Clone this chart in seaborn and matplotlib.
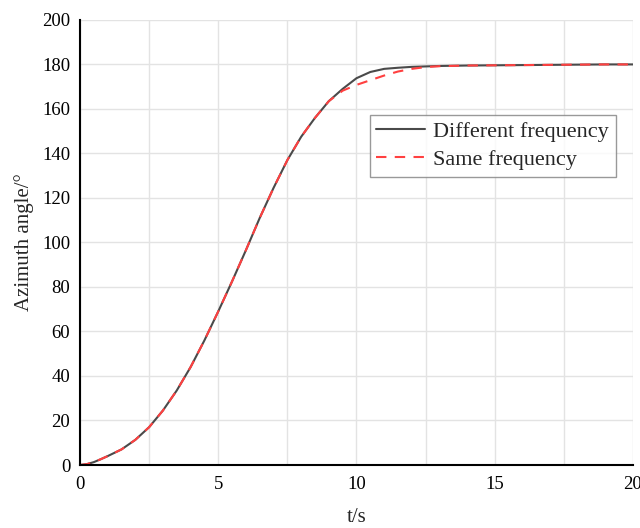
import numpy as np
import pandas as pd
import matplotlib
matplotlib.use("Agg")
import matplotlib.pyplot as plt
import seaborn as sns
from matplotlib.ticker import MultipleLocator

t = [0, 0.25, 0.5, 0.75, 1, 1.5, 2, 2.5, 3, 3.5, 4, 4.5, 5, 5.5, 6, 6.5, 7, 7.5, 8, 8.5, 9,
     9.5, 10, 10.5, 11, 11.5, 12, 12.5, 13, 14, 15, 16, 17, 18, 19, 20]
diff_freq = [0, 0.4, 1.3, 2.6, 4, 7, 11.3, 17, 24.5, 33.5, 44, 56, 69, 82.5, 96.5, 111,
             124.5, 137, 147.5, 156, 163.5, 169, 173.8, 176.6, 178, 178.5, 178.9, 179.1,
             179.3, 179.5, 179.6, 179.7, 179.8, 179.9, 180, 180]
same_freq = [0, 0.4, 1.3, 2.6, 4, 7, 11.3, 17, 24.5, 33.5, 44, 56, 69, 82.5, 96.5, 111,
             124.5, 137, 147.5, 156, 163.5, 168.2, 170.8, 172.9, 175, 176.8, 178, 178.8,
             179.2, 179.5, 179.6, 179.7, 179.8, 179.9, 180, 180]
labels = ["Different frequency", "Same frequency"]

sns.set_style("white")
plt.rcParams['font.family'] = ['Liberation Serif', 'DejaVu Serif']

fig = plt.figure(figsize=(6.4, 5.28), dpi=100)
ax = fig.add_axes([0.125, 0.1193, 0.864, 0.843])

df1 = pd.DataFrame({"t": t, "v": diff_freq})
df2 = pd.DataFrame({"t": t, "v": same_freq})
sns.lineplot(data=df1, x="t", y="v", ax=ax, color="#4a4a4a", lw=1.5, label=labels[0])
sns.lineplot(data=df2, x="t", y="v", ax=ax, color="#ff4040", lw=1.5,
             linestyle=(0, (5, 4)), label=labels[1])

ax.set_xlim(0, 20)
ax.set_ylim(0, 200)
ax.xaxis.set_major_locator(MultipleLocator(5))
ax.xaxis.set_minor_locator(MultipleLocator(2.5))
ax.yaxis.set_major_locator(MultipleLocator(20))
ax.grid(True, which="major", color="#e3e3e3", lw=1)
ax.grid(True, which="minor", axis="x", color="#e3e3e3", lw=1)
ax.set_axisbelow(True)

for s in ["top", "right"]:
    ax.spines[s].set_visible(False)
for s in ["left", "bottom"]:
    ax.spines[s].set_color("black")
    ax.spines[s].set_linewidth(1.5)
ax.tick_params(axis="both", which="major", direction="in", length=7, width=1.5,
               labelsize=13.5, colors="black", pad=7)
ax.tick_params(axis="x", which="major", pad=8)
ax.tick_params(axis="both", which="minor", length=0)

ax.set_xlabel("t/s", fontsize=15, labelpad=11)
ax.set_ylabel("Azimuth angle/°", fontsize=15, labelpad=6)

leg = ax.legend(loc="upper left", bbox_to_anchor=(0.524, 0.787), borderaxespad=0,
                fontsize=16, frameon=True, fancybox=False, edgecolor="#808080",
                handlelength=2.2, handletextpad=0.35, labelspacing=0.35,
                borderpad=0.3)
leg.get_frame().set_linewidth(1)

fig.savefig("out.png", dpi=100)
